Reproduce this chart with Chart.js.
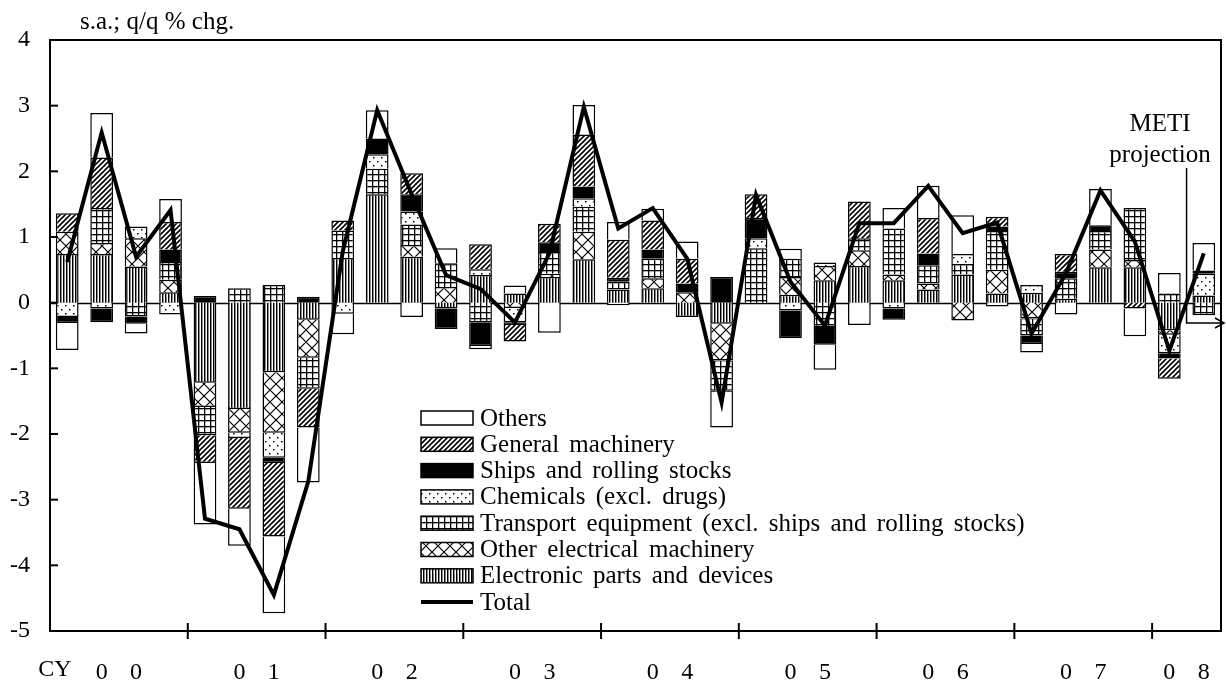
<!DOCTYPE html>
<html><head><meta charset="utf-8">
<script src="https://cdn.jsdelivr.net/npm/chart.js@4.4.1/dist/chart.umd.min.js"></script>
<style>html,body{margin:0;padding:0;background:#fff;}</style>
</head><body>
<canvas id="c" width="1226" height="683" style="display:block;width:1226px;height:683px"></canvas>
<script>
// ---- data ----
const years = ['00','01','02','03','04','05','06','07','08'];
const quartersPerYear = [4,4,4,4,4,4,4,4,2];
const categories = [];
years.forEach((yy,i)=>{for(let q=1;q<=quartersPerYear[i];q++)categories.push('20'+yy+'Q'+q);});

const electronic = [0.74,0.74,0.55,0.16,-1.22,-1.62,-1.06,-0.26, 0.68,1.65,0.70,-0.09,0.42,0.14,0.39,0.66, 0.20,0.22,-0.22,-0.32,0,0.12,0.34,0.56, 0.34,0.20,0.43,0.14,0.15,0.06,0.54,0.54, -0.42,0.11];
const otherElec  = [0.34,0.17,0.43,0.19,-0.37,-0.36,-0.92,-0.58, 0,0,0.18,0.24,0,-0.08,0.05,0.42, 0,0.15,0.16,-0.56,0,0.27,0.22,0.24, 0.09,0.09,-0.27,0.36,-0.24,0,0.27,0.11, -0.07,0];
const transport  = [0,0.53,-0.21,0.27,-0.43,0.22,0.27,-0.47, 0.42,0.39,0.31,0.36,-0.30,0,0.33,0.38, 0.12,0.30,0,-0.46,0.83,0.28,-0.37,0.18, 0.70,0.28,0.16,0.59,-0.26,0.31,0.28,0.79, 0.14,-0.19];
const chemicals  = [-0.22,-0.09,0.18,-0.18,0,-0.08,-0.38,0, -0.17,0.22,0.20,0,0.09,-0.22,0,0.13, -0.04,0,0,0,0.15,-0.12,0.05,0, -0.09,0,0.15,-0.06,0.12,0,0,0, -0.28,0.33];
const ships      = [-0.09,-0.21,-0.11,0.19,0.10,0,-0.08,0.09, 0,0.24,0.26,-0.31,-0.36,-0.04,0.15,0.18, 0.06,0.14,0.13,0.39,0.31,-0.42,-0.27,0, -0.17,0.18,0,0.07,-0.13,0.10,0.09,0, -0.08,0.05];
const generalMach= [0.28,0.77,0,0.42,-0.42,-1.08,-1.12,-0.59, 0.15,0,0.32,0,0.38,-0.25,0.28,0.79, 0.58,0.44,0.38,-0.02,0.36,0,0,0.56, 0,0.54,0,0.15,0,0.27,0,-0.09, -0.31,0];
const others     = [-0.41,0.68,-0.15,0.35,-0.94,-0.56,-1.17,-0.84, -0.31,0.43,-0.22,0.23,-0.05,0.12,-0.46,0.45, 0.27,0.18,0.26,-0.54,0,0.15,-0.38,-0.34, 0.31,0.49,0.59,0,-0.13,-0.18,0.55,-0.42, 0.31,0.42];
const total      = [0.62,2.59,0.70,1.41,-3.29,-3.45,-4.45,-2.72, 0.78,2.93,1.65,0.42,0.21,-0.30,0.75,2.98, 1.13,1.44,0.67,-1.52,1.64,0.32,-0.35,1.21, 1.21,1.78,1.06,1.22,-0.47,0.45,1.71,0.93, -0.73,0.75];

const yMin = -5, yMax = 4, yStep = 1;
const seriesNames = ['Electronic parts and devices','Other electrical machinery','Transport equipment (excl. ships and rolling stocks)','Chemicals (excl. drugs)','Ships and rolling stocks','General machinery','Others'];
const totalName = 'Total';
const unitText = 's.a.; q/q % chg.';
const cyText = 'CY';
const projText = ['METI','projection'];

// tick labels: year digits centred in each year group
const tickLabels = categories.map(()=> '');
{ let idx=0; years.forEach((yy,i)=>{const k=quartersPerYear[i];const s=idx+Math.floor((k-1)/2);tickLabels[s]=yy[0];tickLabels[s+1]=yy[1];idx+=k;}); }

// ---- patterns ----
const mainCtx = document.getElementById('c').getContext('2d');
function pat(w,h,draw){const c=document.createElement('canvas');c.width=w;c.height=h;const g=c.getContext('2d');g.fillStyle='#fff';g.fillRect(0,0,w,h);g.fillStyle='#000';g.strokeStyle='#000';draw(g,w,h);return mainCtx.createPattern(c,'repeat');}
const pVertical = pat(3,3,(g)=>{g.fillRect(0,0,1,3);g.fillStyle='#8a8a8a';g.fillRect(1,0,1,3);});
const pCross = pat(12,12,(g)=>{g.lineWidth=1.2;g.beginPath();g.moveTo(0,0);g.lineTo(12,12);g.moveTo(0,12);g.lineTo(12,0);g.stroke();});
const pGrid = pat(6,6,(g)=>{g.fillRect(0,0,1.3,6);g.fillRect(0,0,6,1.3);});
const pDots = pat(8,8,(g)=>{g.fillRect(1,1,1.5,1.5);g.fillRect(5,5,1.5,1.5);});
const pDiag = pat(5,5,(g)=>{g.lineWidth=1.6;g.beginPath();g.moveTo(-1,6);g.lineTo(6,-1);g.moveTo(-1,1);g.lineTo(1,-1);g.moveTo(4,6);g.lineTo(6,4);g.stroke();});
const fills = [pVertical,pCross,pGrid,pDots,'#000',pDiag,'#fff'];
const seriesData = [electronic,otherElec,transport,chemicals,ships,generalMach,others];

const FONT = "'Liberation Serif','Times New Roman',serif";

const datasets = seriesData.map((d,i)=>({
  type:'bar', label:seriesNames[i], data:d, backgroundColor:fills[i], borderColor:'#000', borderWidth:1.5,
  stack:'bars', order:1, barPercentage:0.66, categoryPercentage:1.0
}));
datasets.push({type:'line', label:totalName, data:total, borderColor:'#000', borderWidth:4, pointRadius:0, tension:0, fill:false, stack:'line', order:0});

const decor = {
  id:'decor',
  beforeDatasetsDraw(chart){
    const {ctx, chartArea:a, scales:{y}} = chart;
    ctx.save(); ctx.strokeStyle='#000'; ctx.lineWidth=1.5;
    const y0 = Math.round(y.getPixelForValue(0))+0.5;
    ctx.beginPath(); ctx.moveTo(a.left,y0); ctx.lineTo(a.right,y0); ctx.stroke(); ctx.restore();
  },
  afterDraw(chart){
    const {ctx, chartArea:a, scales:{x,y}} = chart;
    ctx.save();
    ctx.strokeStyle='#000'; ctx.fillStyle='#000';
    ctx.lineWidth=2;
    ctx.strokeRect(a.left, a.top, a.right-a.left, a.bottom-a.top);
    // y ticks inward
    for(let v=yMin; v<=yMax; v+=yStep){const py=y.getPixelForValue(v); ctx.beginPath(); ctx.moveTo(a.left,py); ctx.lineTo(a.left+8,py); ctx.stroke();}
    // x ticks at year boundaries
    const half=(x.getPixelForValue(1)-x.getPixelForValue(0))/2;
    let idx=0;
    quartersPerYear.forEach((k,i)=>{ if(i>0){const px=x.getPixelForValue(idx)-half; ctx.beginPath(); ctx.moveTo(px,a.bottom-8); ctx.lineTo(px,a.bottom+8); ctx.stroke();} idx+=k; });
    // texts
    ctx.font='24px '+FONT; ctx.textBaseline='middle';
    ctx.textAlign='center'; ctx.fillText(cyText, 55, 670);
    ctx.font='25px '+FONT; ctx.textAlign='left'; ctx.fillText(unitText, 80, 22);
    // legend
    const lx=421, lw=52, lh=14, tx=480; let ly=418; const step=26.3;
    ctx.font='25px '+FONT; ctx.textAlign='left';
    try{ ctx.wordSpacing='4px'; }catch(e){}
    for(let i=seriesNames.length-1;i>=0;i--){
      ctx.fillStyle=fills[i]; ctx.fillRect(lx, ly-lh/2, lw, lh);
      ctx.lineWidth=1.5; ctx.strokeStyle='#000'; ctx.strokeRect(lx, ly-lh/2, lw, lh);
      ctx.fillStyle='#000'; ctx.fillText(seriesNames[i], tx, ly+1);
      ly+=step;
    }
    ctx.lineWidth=4; ctx.beginPath(); ctx.moveTo(lx,ly); ctx.lineTo(lx+lw,ly); ctx.stroke();
    ctx.fillText(totalName, tx, ly+1);
    try{ ctx.wordSpacing='0px'; }catch(e){}
    // METI projection annotation
    ctx.font='25px '+FONT; ctx.textAlign='center';
    ctx.fillText(projText[0], 1160, 124);
    ctx.fillText(projText[1], 1160, 155);
    const bx = x.getPixelForValue(categories.length-1)-half;
    const yTop = 168, yArr = 323;
    ctx.lineWidth=1.5; ctx.beginPath(); ctx.moveTo(bx,yTop); ctx.lineTo(bx,yArr); ctx.lineTo(a.right+3,yArr); ctx.stroke();
    ctx.beginPath(); ctx.moveTo(a.right-6,yArr-5); ctx.lineTo(a.right+3,yArr); ctx.lineTo(a.right-6,yArr+5); ctx.stroke();
    ctx.restore();
  }
};

new Chart(document.getElementById('c'), {
  data:{labels:categories, datasets},
  options:{
    responsive:false, animation:false, devicePixelRatio:1,
    layout:{padding:{top:40,right:5,left:0,bottom:0}},
    plugins:{legend:{display:false}, tooltip:{enabled:false}},
    scales:{
      x:{stacked:true, offset:true, grid:{display:false}, border:{display:false},
         ticks:{autoSkip:false, maxRotation:0, minRotation:0, padding:19, color:'#000', font:{family:FONT,size:24},
                callback:(v,i)=>tickLabels[i]},
         afterFit:(s)=>{s.height=52; s.paddingLeft=0; s.paddingRight=0;}},
      y:{stacked:true, min:yMin, max:yMax, grid:{display:false}, border:{display:false},
         ticks:{stepSize:yStep, padding:12, color:'#000', font:{family:FONT,size:24}},
         afterFit:(s)=>{s.width=50;}}
    }
  },
  plugins:[decor]
});
</script>
</body></html>
